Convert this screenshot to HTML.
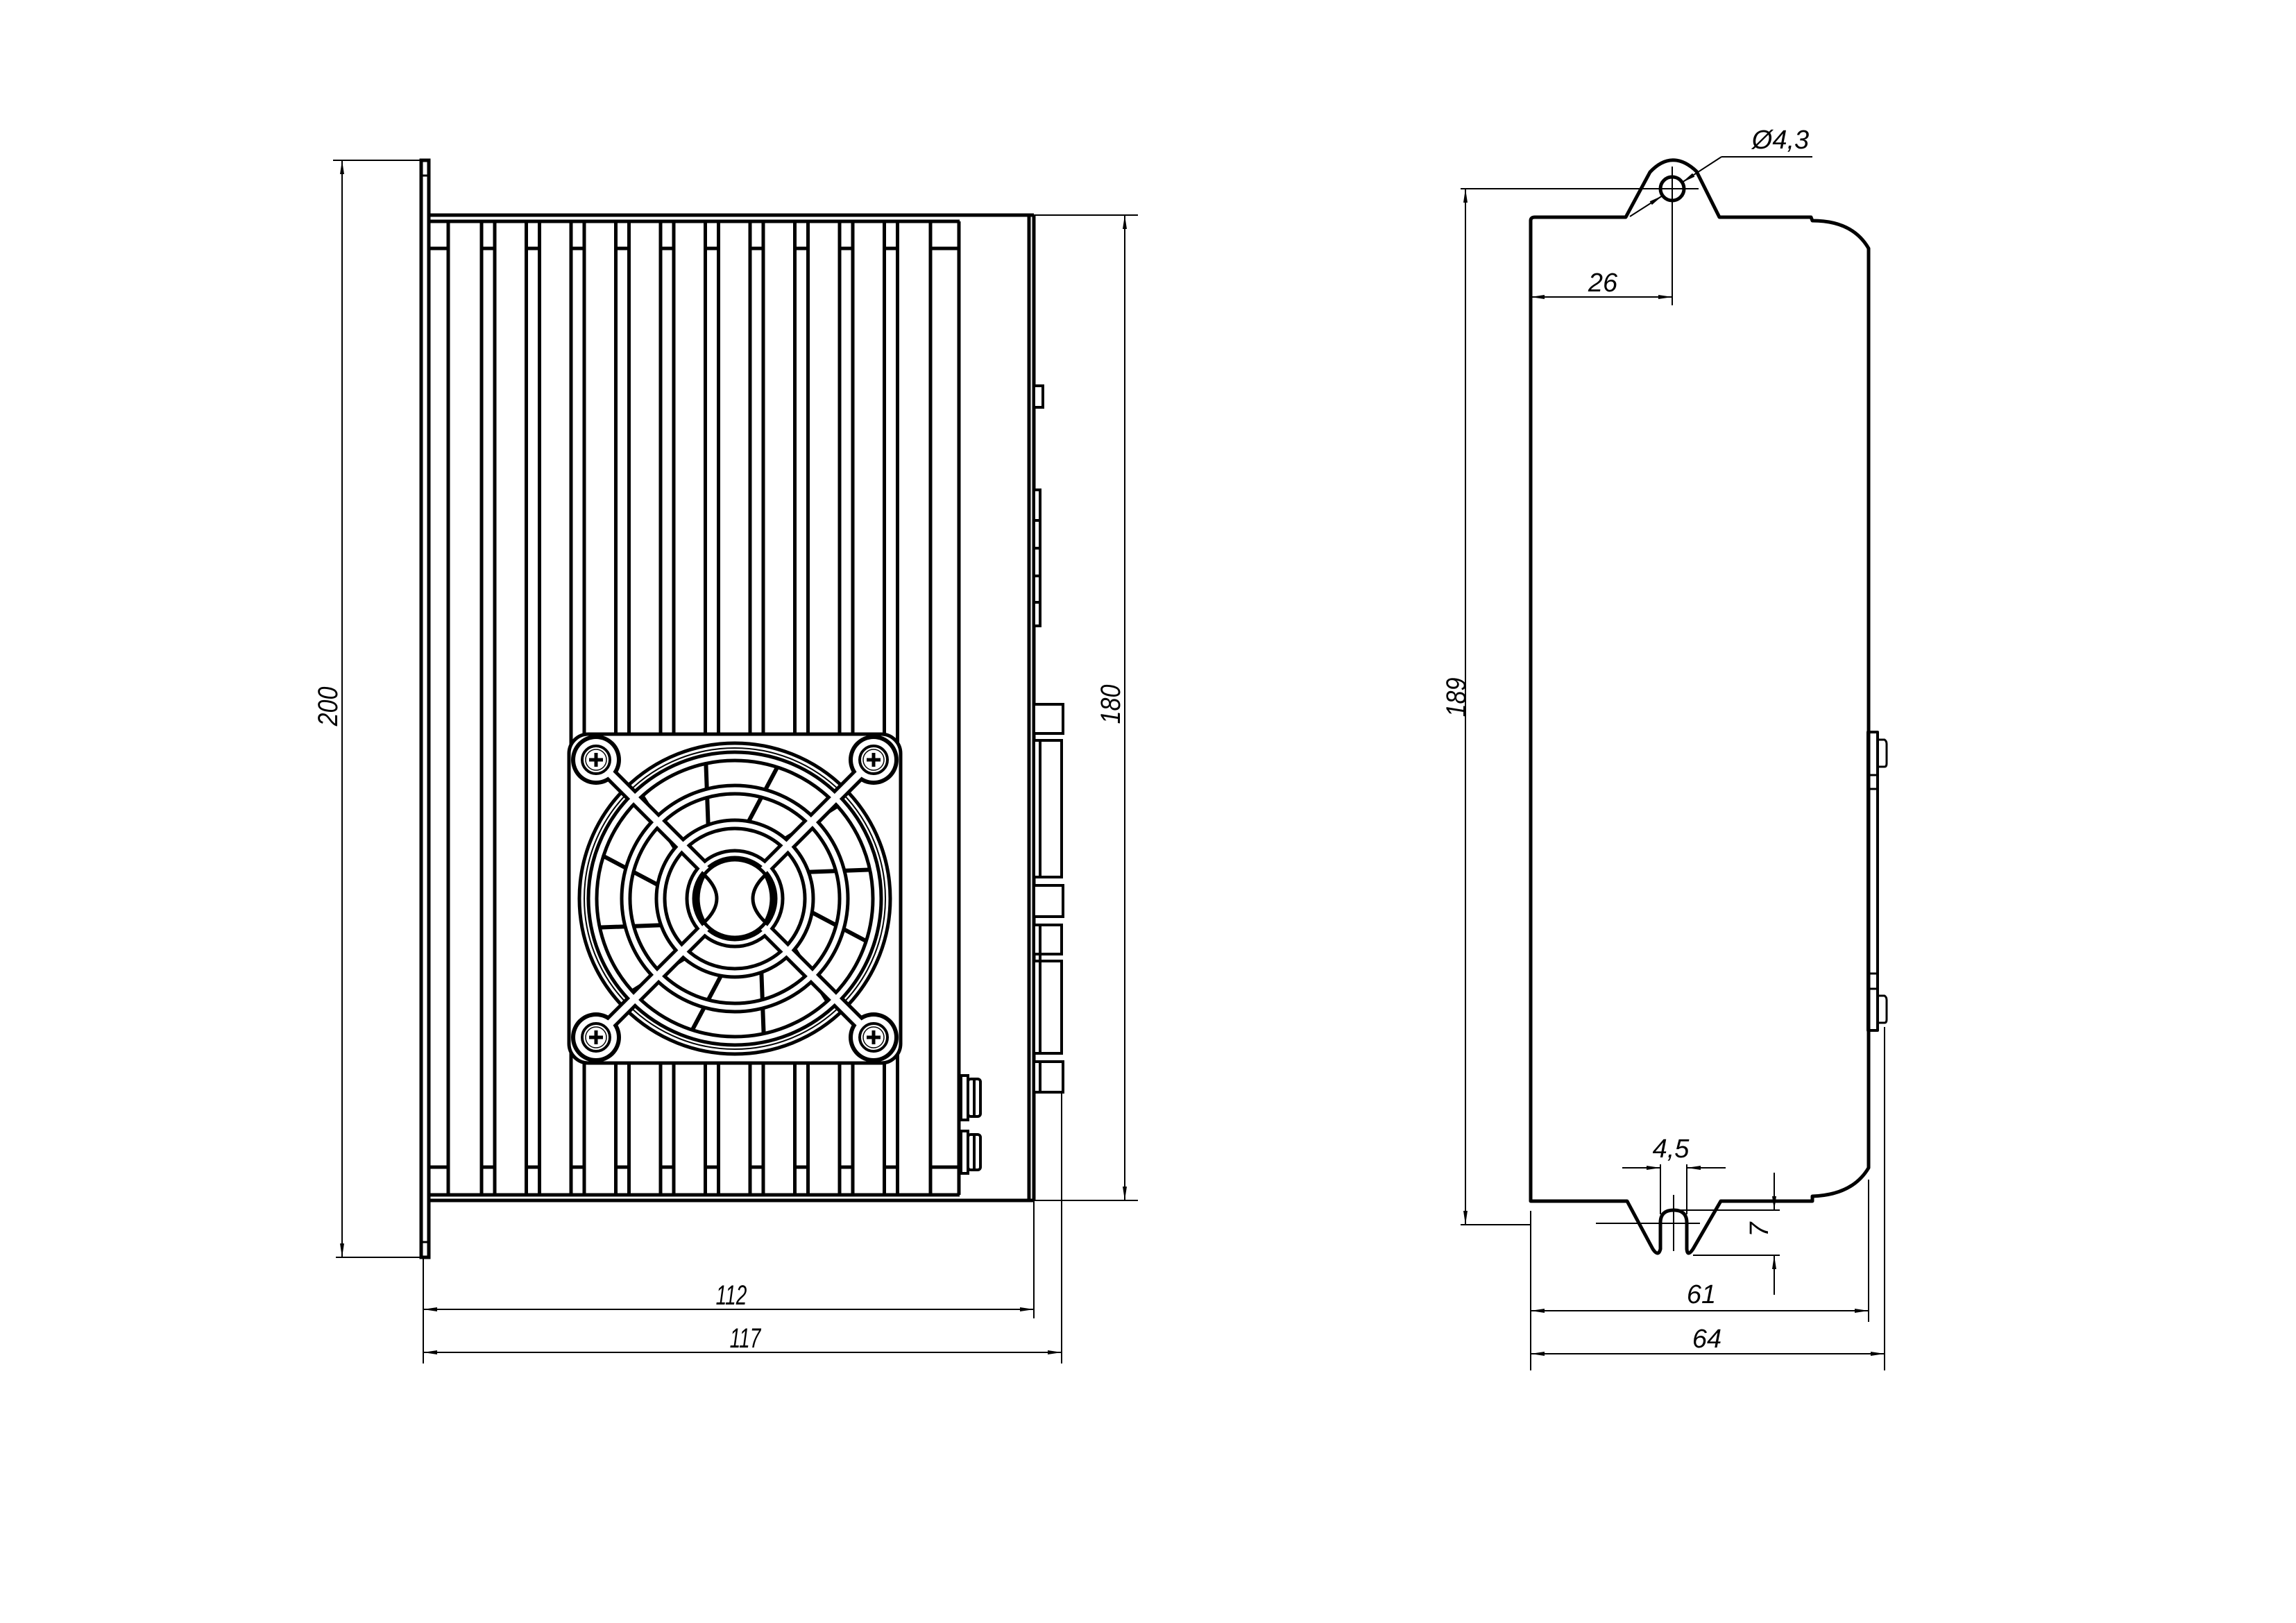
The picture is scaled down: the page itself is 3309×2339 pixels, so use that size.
<!DOCTYPE html>
<html><head><meta charset="utf-8"><style>
html,body{margin:0;padding:0;background:#fff;}
svg{display:block;}
text{font-family:"Liberation Sans",sans-serif;font-style:italic;fill:#000;}
</style></head><body>
<svg width="3309" height="2339" viewBox="0 0 3309 2339" xmlns="http://www.w3.org/2000/svg">
<defs>
<marker id="a" viewBox="0 0 20 8" refX="20" refY="4" markerWidth="20" markerHeight="8" markerUnits="userSpaceOnUse" orient="auto-start-reverse"><path d="M0,1 L20,4 L0,7 Z" fill="#000"/></marker>
</defs>
<rect width="3309" height="2339" fill="#fff"/>

<!-- ============ LEFT VIEW ============ -->
<g fill="none" stroke="#000" stroke-width="5">
  <rect x="607" y="231" width="11" height="1581"/>
  <line x1="609" y1="253" x2="616" y2="253" stroke-width="3"/>
  <line x1="609" y1="1790" x2="616" y2="1790" stroke-width="3"/>
  <line x1="618" y1="310" x2="1490" y2="310"/>
  <line x1="618" y1="319" x2="1383" y2="319"/>
  <line x1="618" y1="1722" x2="1383" y2="1722"/>
  <line x1="618" y1="1730" x2="1490" y2="1730"/>
  <line x1="1483" y1="310" x2="1483" y2="1730"/>
  <line x1="1490" y1="310" x2="1490" y2="1730"/>
  <line x1="646" y1="319" x2="646" y2="1722"/>
  <line x1="618" y1="358" x2="646" y2="358"/>
  <line x1="618" y1="1682" x2="646" y2="1682"/>
  <line x1="1341" y1="319" x2="1341" y2="1722"/>
  <line x1="1382" y1="319" x2="1382" y2="1722"/>
  <line x1="1341" y1="358" x2="1382" y2="358"/>
  <line x1="1341" y1="1682" x2="1382" y2="1682"/>
</g>
<g fill="none" stroke="#000" stroke-width="5">
  <g id="fin">
    <line x1="694" y1="319" x2="694" y2="1722"/>
    <line x1="713" y1="319" x2="713" y2="1722"/>
    <line x1="694" y1="358" x2="713" y2="358"/>
    <line x1="694" y1="1682" x2="713" y2="1682"/>
  </g>
  <use href="#fin" x="64.5"/><use href="#fin" x="129"/><use href="#fin" x="193.5"/>
  <use href="#fin" x="258"/><use href="#fin" x="322.5"/><use href="#fin" x="387"/>
  <use href="#fin" x="451.5"/><use href="#fin" x="516"/><use href="#fin" x="580.5"/>
</g>

<g fill="#fff" stroke="#000" stroke-width="4">
  <rect x="1490" y="556" width="13" height="31"/>
  <rect x="1490" y="706" width="9" height="196"/>
  <line x1="1490" y1="750" x2="1499" y2="750"/><line x1="1490" y1="790" x2="1499" y2="790"/><line x1="1490" y1="830" x2="1499" y2="830"/><line x1="1490" y1="868" x2="1499" y2="868"/>
  <rect x="1490" y="1015" width="42" height="42"/>
  <rect x="1490" y="1067" width="40" height="197"/>
  <line x1="1499" y1="1067" x2="1499" y2="1264"/>
  <rect x="1490" y="1276" width="42" height="45"/>
  <rect x="1490" y="1333" width="40" height="42"/>
  <rect x="1490" y="1385" width="40" height="133"/>
  <line x1="1499" y1="1333" x2="1499" y2="1518"/>
  <rect x="1490" y="1530" width="42" height="44"/>
  <line x1="1499" y1="1530" x2="1499" y2="1574"/>
  <rect x="1385" y="1550" width="10" height="64"/>
  <rect x="1395" y="1555" width="18" height="54" rx="4"/>
  <line x1="1404" y1="1555" x2="1404" y2="1609"/>
  <rect x="1385" y="1630" width="10" height="61"/>
  <rect x="1395" y="1635" width="18" height="51" rx="4"/>
  <line x1="1404" y1="1635" x2="1404" y2="1686"/>
</g>

<!-- FAN -->
<g transform="translate(1059,1295)">
  <rect x="-239" y="-237" width="478" height="474" rx="28" fill="#fff" stroke="#000" stroke-width="5"/>
  <circle r="224" fill="none" stroke="#000" stroke-width="5"/>
  <circle r="217" fill="none" stroke="#000" stroke-width="2"/>
  <g stroke="#000" stroke-width="6" fill="none">
    <line x1="0" y1="-112" x2="30" y2="-205" transform="rotate(10)"/>
    <line x1="0" y1="-112" x2="30" y2="-205" transform="rotate(40)"/>
    <line x1="0" y1="-112" x2="30" y2="-205" transform="rotate(70)"/>
    <line x1="0" y1="-112" x2="30" y2="-205" transform="rotate(100)"/>
    <line x1="0" y1="-112" x2="30" y2="-205" transform="rotate(130)"/>
    <line x1="0" y1="-112" x2="30" y2="-205" transform="rotate(160)"/>
    <line x1="0" y1="-112" x2="30" y2="-205" transform="rotate(190)"/>
    <line x1="0" y1="-112" x2="30" y2="-205" transform="rotate(220)"/>
    <line x1="0" y1="-112" x2="30" y2="-205" transform="rotate(250)"/>
    <line x1="0" y1="-112" x2="30" y2="-205" transform="rotate(280)"/>
    <line x1="0" y1="-112" x2="30" y2="-205" transform="rotate(310)"/>
    <line x1="0" y1="-112" x2="30" y2="-205" transform="rotate(340)"/>
  </g>
  <g fill="none" stroke="#000">
    <circle r="205" stroke-width="17"/>
    <circle r="157" stroke-width="17"/>
    <circle r="107" stroke-width="17"/>
    <circle r="64" stroke-width="15"/>
    <line x1="-200" y1="-200" x2="200" y2="200" stroke-width="20"/>
    <line x1="200" y1="-200" x2="-200" y2="200" stroke-width="20"/>
    <circle cx="-200" cy="-200" r="36" fill="#000" stroke="none"/>
    <circle cx="200" cy="-200" r="36" fill="#000" stroke="none"/>
    <circle cx="-200" cy="200" r="36" fill="#000" stroke="none"/>
    <circle cx="200" cy="200" r="36" fill="#000" stroke="none"/>
  </g>
  <g fill="none" stroke="#fff">
    <circle r="205" stroke-width="7"/>
    <circle r="157" stroke-width="7"/>
    <circle r="107" stroke-width="7"/>
    <circle r="64" stroke-width="5"/>
    <line x1="-200" y1="-200" x2="200" y2="200" stroke-width="10"/>
    <line x1="200" y1="-200" x2="-200" y2="200" stroke-width="10"/>
    <circle cx="-200" cy="-200" r="30" fill="#fff" stroke="none"/>
    <circle cx="200" cy="-200" r="30" fill="#fff" stroke="none"/>
    <circle cx="-200" cy="200" r="30" fill="#fff" stroke="none"/>
    <circle cx="200" cy="200" r="30" fill="#fff" stroke="none"/>
  </g>
  <!-- hub -->
  <circle r="56" fill="#fff" stroke="#000" stroke-width="5"/>
  <g fill="#fff" stroke="#000" stroke-width="5">
    <path d="M-44,-34 Q-8,0 -44,34 Q-62,0 -44,-34 Z"/>
    <path d="M44,-34 Q8,0 44,34 Q62,0 44,-34 Z"/>
  </g>
  <g id="scr" fill="none" stroke="#000">
    <circle cx="-200" cy="-200" r="20" stroke-width="4"/>
    <circle cx="-200" cy="-200" r="15" stroke-width="1.5"/>
    <line x1="-210" y1="-200" x2="-190" y2="-200" stroke-width="5"/>
    <line x1="-200" y1="-210" x2="-200" y2="-190" stroke-width="5"/>
  </g>
  <use href="#scr" x="400"/><use href="#scr" y="400"/><use href="#scr" x="400" y="400"/>
</g>

<g fill="none" stroke="#000" stroke-width="2">
  <line x1="480" y1="231" x2="607" y2="231"/>
  <line x1="484" y1="1812" x2="607" y2="1812"/>
  <line x1="493" y1="231" x2="493" y2="1812" marker-start="url(#a)" marker-end="url(#a)"/>
  <line x1="1490" y1="310" x2="1640" y2="310"/>
  <line x1="1490" y1="1730" x2="1640" y2="1730"/>
  <line x1="1621" y1="310" x2="1621" y2="1730" marker-start="url(#a)" marker-end="url(#a)"/>
  <line x1="610" y1="1812" x2="610" y2="1965"/>
  <line x1="1490" y1="1730" x2="1490" y2="1900"/>
  <line x1="1530" y1="1574" x2="1530" y2="1965"/>
  <line x1="610" y1="1887" x2="1490" y2="1887" marker-start="url(#a)" marker-end="url(#a)"/>
  <line x1="610" y1="1949" x2="1530" y2="1949" marker-start="url(#a)" marker-end="url(#a)"/>
</g>
<text x="0" y="0" font-size="40" text-anchor="middle" transform="translate(486,1018) rotate(-90) scale(0.85,1)">200</text>
<text x="0" y="0" font-size="40" text-anchor="middle" transform="translate(1614,1015) rotate(-90) scale(0.85,1)">180</text>
<text x="1054" y="1880" font-size="40" text-anchor="middle" transform="translate(1054,0) scale(0.7,1) translate(-1054,0)">112</text>
<text x="1074" y="1942" font-size="40" text-anchor="middle" transform="translate(1074,0) scale(0.7,1) translate(-1074,0)">117</text>

<!-- ============ RIGHT VIEW ============ -->
<g fill="none" stroke="#000" stroke-width="5" stroke-linejoin="round">
  <path d="M2206,1731 L2206,318 Q2206,313 2212,313 L2343,313 L2378,248 Q2410,214 2445,247 L2478,313 L2610,313 L2612,318 Q2670,318 2693,358 L2693,1683 Q2670,1722 2612,1724 L2612,1731 L2480,1731 L2440,1800 Q2432,1812 2431,1800 L2431,1762 Q2431,1744 2412,1744 Q2393,1744 2393,1762 L2393,1800 Q2390,1812 2382,1800 L2345,1731 Z"/>
  <circle cx="2410" cy="272" r="17"/>
  <rect x="2692" y="1055" width="14" height="430" stroke-width="4"/>
  <line x1="2692" y1="1117" x2="2706" y2="1117" stroke-width="3"/>
  <line x1="2692" y1="1137" x2="2706" y2="1137" stroke-width="3"/>
  <line x1="2692" y1="1403" x2="2706" y2="1403" stroke-width="3"/>
  <line x1="2692" y1="1425" x2="2706" y2="1425" stroke-width="3"/>
  <path d="M2706,1066 L2716,1066 Q2719,1068 2719,1072 L2719,1100 Q2719,1105 2716,1105 L2706,1105" stroke-width="3"/>
  <path d="M2706,1435 L2716,1435 Q2719,1437 2719,1441 L2719,1469 Q2719,1474 2716,1474 L2706,1474" stroke-width="3"/>
</g>
<g fill="none" stroke="#000" stroke-width="2">
  <line x1="2410" y1="240" x2="2410" y2="300"/>
  <line x1="2380" y1="272" x2="2448" y2="272"/>
  <line x1="2412" y1="1722" x2="2412" y2="1803"/>
  <line x1="2300" y1="1763" x2="2450" y2="1763"/>
  <line x1="2105" y1="272" x2="2448" y2="272"/>
  <line x1="2105" y1="1765" x2="2206" y2="1765"/>
  <line x1="2112" y1="272" x2="2112" y2="1765" marker-start="url(#a)" marker-end="url(#a)"/>
  <line x1="2410" y1="272" x2="2410" y2="440"/>
  <line x1="2206" y1="428" x2="2410" y2="428" marker-start="url(#a)" marker-end="url(#a)"/>
  <line x1="2612" y1="226" x2="2481" y2="226"/>
  <line x1="2481" y1="226" x2="2424" y2="263" marker-end="url(#a)"/>
  <line x1="2349" y1="312" x2="2396" y2="282" marker-end="url(#a)"/>
  <line x1="2393" y1="1678" x2="2393" y2="1750"/>
  <line x1="2431" y1="1678" x2="2431" y2="1750"/>
  <line x1="2338" y1="1683" x2="2393" y2="1683" marker-end="url(#a)"/>
  <line x1="2487" y1="1683" x2="2431" y2="1683" marker-end="url(#a)"/>
  <line x1="2420" y1="1744" x2="2565" y2="1744"/>
  <line x1="2440" y1="1809" x2="2565" y2="1809"/>
  <line x1="2557" y1="1690" x2="2557" y2="1744" marker-end="url(#a)"/>
  <line x1="2557" y1="1866" x2="2557" y2="1809" marker-end="url(#a)"/>
  <line x1="2206" y1="1745" x2="2206" y2="1975"/>
  <line x1="2693" y1="1700" x2="2693" y2="1905"/>
  <line x1="2716" y1="1480" x2="2716" y2="1975"/>
  <line x1="2206" y1="1889" x2="2693" y2="1889" marker-start="url(#a)" marker-end="url(#a)"/>
  <line x1="2206" y1="1951" x2="2716" y2="1951" marker-start="url(#a)" marker-end="url(#a)"/>
</g>
<text x="0" y="0" font-size="40" text-anchor="middle" transform="translate(2112,1005) rotate(-90) scale(0.85,1)">189</text>
<text x="2310" y="420" font-size="38" text-anchor="middle">26</text>
<text x="2566" y="214" font-size="38" text-anchor="middle">Ø4,3</text>
<text x="2408" y="1668" font-size="38" text-anchor="middle">4,5</text>
<text x="0" y="0" font-size="38" text-anchor="middle" transform="translate(2548,1772) rotate(-90)">7</text>
<text x="2452" y="1878" font-size="38" text-anchor="middle">61</text>
<text x="2460" y="1942" font-size="38" text-anchor="middle">64</text>
</svg>
</body></html>
